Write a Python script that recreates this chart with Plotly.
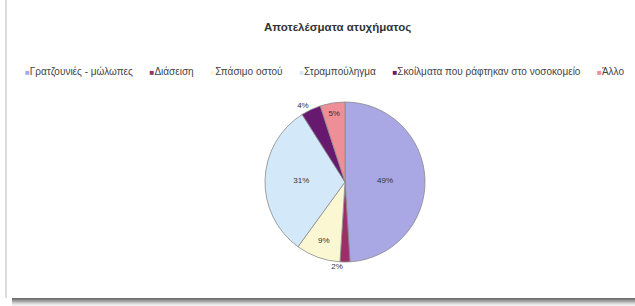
import plotly.graph_objects as go

title = "Αποτελέσματα ατυχήματος"
labels = ["Γρατζουνιές - μώλωπες", "Διάσειση", "Σπάσιμο οστού", "Στραμπούληγμα",
          "Σκοίλματα που ράφτηκαν στο νοσοκομείο", "Άλλο"]
values = [49, 2, 9, 31, 4, 5]
colors = ["#A9A7E4", "#9B2F6A", "#FBF7D2", "#D3E8F8", "#66196E", "#EE8E96"]
text_positions = ["inside", "outside", "inside", "inside", "outside", "inside"]

W, H = 635, 306
FONT = "Arial, Liberation Sans, sans-serif"

fig = go.Figure(go.Pie(
    labels=labels, values=values, sort=False, direction="clockwise", rotation=0,
    marker=dict(colors=colors, line=dict(color="#8a8a8a", width=0.8)),
    textinfo="percent", texttemplate="%{value}%", textposition=text_positions,
    insidetextorientation="horizontal",
    textfont=dict(family=FONT, size=8, color="#333333"),
    domain=dict(x=[265 / W, 425 / W], y=[(H - 262) / H, (H - 102) / H]),
    showlegend=False, hoverinfo="label+percent",
))

# legend built from labels/colors
sep = "\u00a0" * 6
parts = []
for lab, col in zip(labels, colors):
    parts.append(f'<span style="color:{col};font-size:8px">■</span>{lab}')
legend_text = sep.join(parts)

shapes = [
    dict(type="line", xref="paper", yref="paper", x0=6 / W, x1=6 / W, y0=(H - 298) / H, y1=1,
         line=dict(color="#d0d0d0", width=1.5)),
]
shadow = ["#6e6e6e", "#808080", "#959595", "#ababab", "#c2c2c2", "#d6d6d6", "#e6e6e6", "#f2f2f2"]
for i, c in enumerate(shadow):
    shapes.append(dict(type="rect", xref="paper", yref="paper", x0=12 / W, x1=1,
                       y0=(H - 299 - i) / H, y1=(H - 298 - i) / H,
                       fillcolor=c, line=dict(width=0), layer="below"))

fig.update_layout(
    width=W, height=H, margin=dict(l=0, r=0, t=0, b=0),
    paper_bgcolor="white", plot_bgcolor="white",
    shapes=shapes,
    annotations=[
        dict(text=f"<b>{title}</b>", xref="paper", yref="paper", x=337 / W, y=(H - 27) / H,
             showarrow=False, font=dict(family=FONT, size=11.5, color="#333333"),
             xanchor="center", yanchor="middle"),
        dict(text=legend_text, xref="paper", yref="paper", x=324 / W, y=(H - 72) / H,
             showarrow=False, font=dict(family=FONT, size=10, color="#444444"),
             xanchor="center", yanchor="middle"),
    ],
)

fig.write_html("out.html", config={"displayModeBar": False},
               post_script="document.body.style.margin='0';")
